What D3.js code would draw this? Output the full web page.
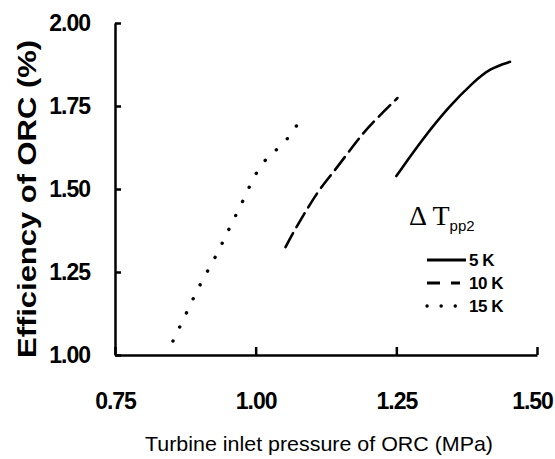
<!DOCTYPE html>
<html>
<head>
	<script src="https://d3js.org/d3.v7.min.js"></script>
	<style>
		body { margin: 0; background: #fff; }
		.tick-label { font-family: "Liberation Sans", Arial, sans-serif; font-weight: bold; font-size: 23px; letter-spacing: -1px; }
	</style>
</head>
<body>
	<div class="chart"></div>
	<script>
		// data
		var series = ["5 K", "10 K", "15 K"];
		var dash = ["none", "16,7", "0.1,15.5"];
		var legendDash = ["none", "13,11,9", "0.1,14"];
		var p5 = [1.250, 1.298, 1.346, 1.387, 1.417, 1.452];
		var e5 = [1.539, 1.654, 1.753, 1.822, 1.864, 1.883];
		var p10 = [1.053, 1.066, 1.083, 1.112, 1.137, 1.165, 1.191, 1.216, 1.252];
		var e10 = [1.325, 1.367, 1.416, 1.497, 1.548, 1.611, 1.669, 1.714, 1.774];
		var p15 = [0.853, 0.878, 0.902, 0.931, 0.954, 0.977, 1.000, 1.025, 1.050, 1.076];
		var e15 = [1.042, 1.130, 1.217, 1.301, 1.386, 1.461, 1.551, 1.605, 1.633, 1.699];
		var xTicks = [0.75, 1.00, 1.25, 1.50];
		var yTicks = [1.00, 1.25, 1.50, 1.75, 2.00];

		var w = 555, h = 459;
		var svg = d3.select(".chart").append("svg")
			.attr("width", w)
			.attr("height", h);

		var x = d3.scaleLinear().domain([0.75, 1.5]).range([115, 537]);
		var y = d3.scaleLinear().domain([1, 2]).range([355, 23]);

		// axes, ticks pointing inward
		var xAxis = svg.append("g")
			.attr("transform", "translate(0," + y(1) + ")")
			.call(d3.axisBottom(x).tickValues(xTicks).tickSizeInner(-8).tickSizeOuter(0).tickPadding(38).tickFormat(d3.format(".2f")));
		var yAxis = svg.append("g")
			.attr("transform", "translate(" + x(0.75) + ",0)")
			.call(d3.axisLeft(y).tickValues(yTicks).tickSizeInner(-6).tickSizeOuter(0).tickPadding(25).tickFormat(d3.format(".2f")));
		[xAxis, yAxis].forEach(function(a) {
			a.select(".domain").attr("stroke", "#000").attr("stroke-width", 2.5);
			a.selectAll(".tick line").attr("stroke", "#000").attr("stroke-width", 2.5);
			a.selectAll(".tick text").attr("class", "tick-label").attr("fill", "#000");
		});
		xAxis.selectAll(".tick text").attr("dy", "0.71em");
		// last label sits against the page edge
		xAxis.selectAll(".tick text").filter(function(d) { return d == 1.5; }).attr("x", -5);

		// curves
		var data = [
			d3.zip(p5, e5),
			d3.zip(p10, e10),
			d3.zip(p15, e15)
		];
		var line = d3.line()
			.x(function(d) { return x(d[0]); })
			.y(function(d) { return y(d[1]); })
			.curve(d3.curveBasis);
		svg.append("g").selectAll("path")
			.data(data)
			.enter()
			.append("path")
			.attr("d", line)
			.attr("fill", "none")
			.attr("stroke", "#000")
			.attr("stroke-width", function(d, i) { return i == 2 ? 3.4 : 2.6; })
			.attr("stroke-linecap", "round")
			.attr("stroke-dasharray", function(d, i) { return dash[i]; });

		// axis titles
		svg.append("text")
			.attr("x", 319)
			.attr("y", 451)
			.attr("text-anchor", "middle")
			.attr("textLength", 348)
			.attr("lengthAdjust", "spacingAndGlyphs")
			.style("font-family", "Liberation Sans, Arial, sans-serif")
			.style("font-size", "21px")
			.text("Turbine inlet pressure of ORC (MPa)");
		svg.append("text")
			.attr("transform", "translate(36,199)rotate(-90)")
			.attr("text-anchor", "middle")
			.attr("textLength", 318)
			.attr("lengthAdjust", "spacingAndGlyphs")
			.style("font-family", "Liberation Sans, Arial, sans-serif")
			.style("font-weight", "bold")
			.style("font-size", "26px")
			.text("Efficiency of ORC (%)");

		// legend
		var lg = svg.append("g");
		var title = lg.append("text")
			.attr("x", 409)
			.attr("y", 225);
		title.append("tspan")
			.style("font-family", "Liberation Serif, serif")
			.style("font-size", "28px")
			.text("\u0394 T");
		title.append("tspan")
			.attr("dy", 6)
			.style("font-family", "Liberation Sans, sans-serif")
			.style("font-size", "15px")
			.text("pp2");
		series.forEach(function(s, i) {
			var ly = 260 + i * 23;
			lg.append("line")
				.attr("x1", 427).attr("x2", 466)
				.attr("y1", ly).attr("y2", ly)
				.attr("stroke", "#000")
				.attr("stroke-width", i == 2 ? 3.4 : 2.8)
				.attr("stroke-linecap", i == 2 ? "round" : "butt")
				.attr("stroke-dasharray", legendDash[i]);
			lg.append("text")
				.attr("x", 469)
				.attr("y", ly + 6)
				.style("font-family", "Liberation Sans, Arial, sans-serif")
				.style("font-weight", "bold")
				.style("font-size", "17px")
				.style("letter-spacing", "-0.5px")
				.text(s);
		});
	</script>
</body>
</html>
